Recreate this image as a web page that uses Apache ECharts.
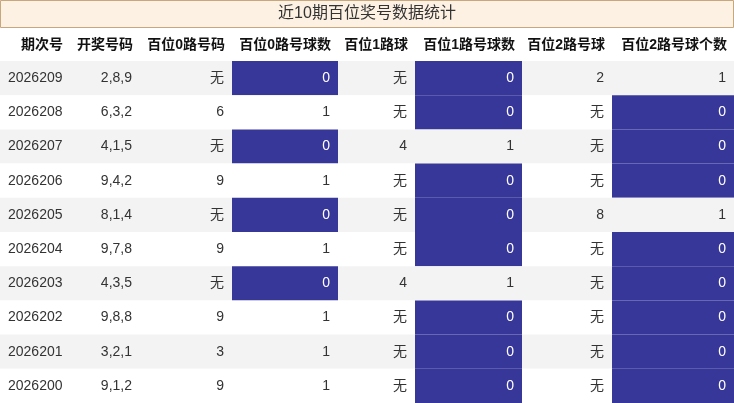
<!DOCTYPE html>
<html lang="en">
<head>
<meta charset="UTF-8">
<title>近10期百位奖号数据统计</title>
<script src="https://cdn.jsdelivr.net/npm/echarts@6/dist/echarts.min.js"></script>
<style>
  html, body { margin: 0; padding: 0; background: #fff; }
  #charts { width: 734px; height: 403px; }
</style>
</head>
<body>
<div id="charts"></div>
<script>
    // 表格数据
    var headers = ['期次号', '开奖号码', '百位0路号码', '百位0路号球数', '百位1路球', '百位1路号球数', '百位2路号球', '百位2路号球个数'];
    var periods = ['2026209', '2026208', '2026207', '2026206', '2026205', '2026204', '2026203', '2026202', '2026201', '2026200'];
    var draws = ['2,8,9', '6,3,2', '4,1,5', '9,4,2', '8,1,4', '9,7,8', '4,3,5', '9,8,8', '3,2,1', '9,1,2'];
    var road0 = ['无', '6', '无', '9', '无', '9', '无', '9', '3', '9'];
    var road0Count = [0, 1, 0, 1, 0, 1, 0, 1, 1, 1];
    var road1 = ['无', '无', '4', '无', '无', '无', '4', '无', '无', '无'];
    var road1Count = [0, 0, 1, 0, 0, 0, 1, 0, 0, 0];
    var road2 = ['2', '无', '无', '无', '8', '无', '无', '无', '无', '无'];
    var road2Count = [1, 0, 0, 0, 1, 0, 0, 0, 0, 0];

    // 列边界（布局）
    var colEdges = [0, 70, 140, 232, 338, 415, 522, 612, 734];
    var countCols = [3, 5, 7];
    var blue = '#373699';

    var columns = [periods, draws, road0, road0Count, road1, road1Count, road2, road2Count];
    var cells = [];
    for (var r = 0; r < periods.length; r++) {
        for (var c = 0; c < columns.length; c++) {
            cells.push([c, r, String(columns[c][r])]);
        }
    }

    var myChart = echarts.init(document.getElementById('charts'));
    var font = '"Liberation Sans", "Noto Sans CJK SC", sans-serif';

    var headerGraphics = [{
        type: 'rect',
        shape: { x: 0.5, y: 0.5, width: 733, height: 27 },
        style: { fill: '#fdf1e3', stroke: '#c8a77e', lineWidth: 1 }
    }, {
        type: 'text',
        x: 367, y: 14,
        style: { text: '近10期百位奖号数据统计', fill: '#333', font: '16px ' + font, align: 'center', verticalAlign: 'middle' }
    }];
    headers.forEach(function (h, i) {
        headerGraphics.push({
            type: 'text',
            x: colEdges[i + 1] - 7, y: 45,
            style: { text: h, fill: '#111', font: 'bold 14px ' + font, align: 'right', verticalAlign: 'middle' }
        });
    });

    var option = {
        animation: false,
        grid: { left: 0, right: 0, top: 61, bottom: 0 },
        xAxis: { type: 'value', min: 0, max: 734, show: false },
        yAxis: { type: 'value', min: 0, max: 10, inverse: true, show: false },
        graphic: headerGraphics,
        series: [{
            type: 'custom',
            data: cells,
            renderItem: function (params, api) {
                var c = api.value(0), r = api.value(1);
                var txt = cells[params.dataIndex][2];
                var p0 = api.coord([colEdges[c], r]);
                var p1 = api.coord([colEdges[c + 1], r + 1]);
                var isBlue = countCols.indexOf(c) >= 0 && txt === '0';
                var fill = isBlue ? blue : (r % 2 === 0 ? '#f3f3f3' : '#ffffff');
                return {
                    type: 'group',
                    children: [{
                        type: 'rect',
                        shape: { x: p0[0], y: p0[1], width: p1[0] - p0[0], height: p1[1] - p0[1] },
                        style: { fill: fill }
                    }, {
                        type: 'text',
                        x: c === 0 ? p0[0] + 8 : p1[0] - 8,
                        y: (p0[1] + p1[1]) / 2,
                        style: {
                            text: txt, fill: isBlue ? '#fff' : '#333',
                            font: '14px ' + font,
                            align: c === 0 ? 'left' : 'right', verticalAlign: 'middle'
                        }
                    }]
                };
            }
        }]
    };
    myChart.setOption(option);
</script>
</body>
</html>
